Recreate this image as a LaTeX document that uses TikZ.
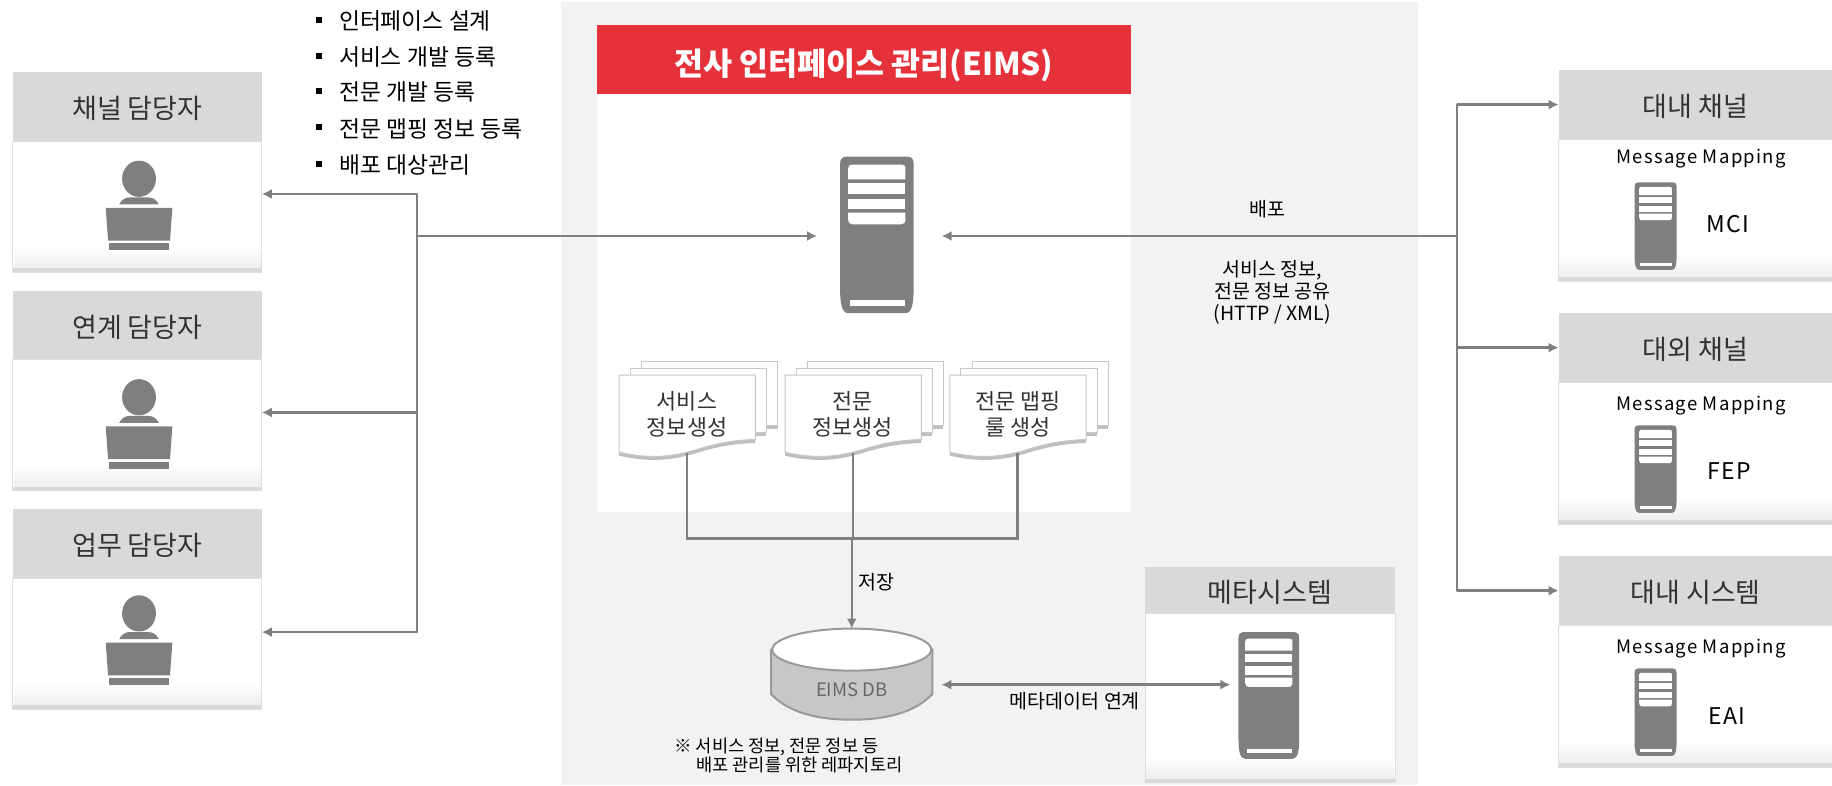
\documentclass[tikz,border=0pt]{standalone}
\usepackage{fontspec}
\usepackage{xcolor}
\setmainfont{Noto Sans CJK KR}
\usetikzlibrary{arrows.meta}
\definecolor{panelgray}{HTML}{F2F2F2}
\definecolor{headgray}{HTML}{D9D9D9}
\definecolor{wiregray}{HTML}{7F7F7F}
\definecolor{eimsred}{HTML}{E5323A}
\definecolor{darktext}{HTML}{333333}
\tikzset{
  wire/.style={draw=wiregray,line width=2.5pt},
  conn/.style={wire,-{Latex[length=10pt,width=10pt]}},
  twoway/.style={wire,{Latex[length=10pt,width=10pt]}-{Latex[length=10pt,width=10pt]}},
  headcell/.style={fill=headgray,text=darktext,font=\fontsize{27}{30}\selectfont,anchor=north west,inner sep=0pt,outer sep=0pt,text height=26pt,text depth=2pt},
  bodycell/.style={draw=black!12,line width=1pt,fill=white,anchor=north west,inner sep=0pt,outer sep=0pt},
  docpage/.style={minimum width=136pt,minimum height=77pt,inner sep=0pt,align=center,text=darktext,font=\fontsize{21.8}{26}\selectfont},
  srvmark/.style={inner sep=0pt,outer sep=0pt},
  bulletmark/.style={fill=black,minimum size=6pt,inner sep=0pt},
  bulletitem/.style={anchor=west,inner sep=0pt,font=\fontsize{22.8}{26}\selectfont},
  smalltext/.style={inner sep=0pt,align=center,font=\fontsize{19.5}{22}\selectfont},
  notetext/.style={inner sep=0pt,align=left,font=\fontsize{17.6}{19}\selectfont},
  mapcap/.style={inner sep=0pt,font=\fontsize{18.5}{22}\selectfont\addfontfeature{LetterSpace=7}},
  syscap/.style={inner sep=0pt,font=\fontsize{23}{26}\selectfont\addfontfeature{LetterSpace=6}}
}
\newcommand{\bodyfade}[1]{
\shade[top color=white,bottom color=black!7] ([xshift=1pt,yshift=26pt]#1.south west) rectangle ([xshift=-1pt,yshift=4pt]#1.south east);
\fill[black!15] ([yshift=4pt]#1.south west) rectangle (#1.south east);
}
\newcommand{\serverunit}[5]{
\node[srvmark,minimum width=#4*73.6pt,minimum height=#5*156.5pt] (#1) at ({#2+31.5*#4},{#3+67*#5}) {};
\begin{scope}[shift={(#2,#3)},xscale=#4,yscale=#5]
\fill[wiregray] (0,6) .. controls (0,2) and (2,0) .. (6,0) -- (57,0) .. controls (61,0) and (63,2) .. (63,6) -- (63,112) .. controls (63,124) and (62,134) .. (56,134) -- (7,134) .. controls (1,134) and (0,124) .. (0,112) -- cycle;
\fill[white] (7,10) .. controls (7,8) and (8,7) .. (10,7) -- (53,7) .. controls (55,7) and (56,8) .. (56,10) -- (56,19.5) -- (7,19.5) -- cycle;
\fill[white] (7,23) rectangle (56,32);
\fill[white] (7,36) rectangle (56,45);
\fill[white] (7,48) -- (56,48) -- (56,54) .. controls (56,57) and (54,58) .. (52,58) -- (11,58) .. controls (9,58) and (7,57) .. (7,54) -- cycle;
\fill[white] (8.5,123) rectangle (56,128);
\end{scope}
}
\newcommand{\personicon}[2]{
\begin{scope}[shift={(#1,#2)}]
\fill[wiregray] (0,0) ellipse [x radius=14.5,y radius=15.5];
\fill[wiregray] (-17,22) .. controls (-15,18) and (-12,16) .. (-8,16) -- (8,16) .. controls (12,16) and (15,18) .. (17,22) -- cycle;
\fill[wiregray] (-28.5,25) -- (28.5,25) -- (26.5,53) -- (-26.5,53) -- cycle;
\fill[wiregray] (-26,55) rectangle (26,61);
\end{scope}
}
\newcommand{\docstack}[2]{
\begin{scope}[shift={(#1,#2)}]
\foreach \off/\up in {19/12,9.5/6} {
\fill[black!25] (\off,-\up+3) rectangle (\off+116.5,-\up+58);
\filldraw[draw=black!22,fill=white,line width=1pt] (\off,-\up) rectangle (\off+116.5,-\up+55);
}
\fill[black!25] (0,4) -- (0,69) .. controls (30,76) and (50,72) .. (72,65) .. controls (90,60) and (100,59) .. (116.5,58) -- (116.5,4) -- cycle;
\filldraw[draw=black!22,fill=white,line width=1pt] (0,0) -- (116.5,0) -- (116.5,55) .. controls (100,56) and (90,57) .. (72,62) .. controls (50,69) and (30,73) .. (0,66) -- cycle;
\end{scope}
}
\begin{document}
\begin{tikzpicture}[x=1.1684pt,y=-1.1684pt]
\useasboundingbox (0,0) rectangle (1568,672);
\fill[panelgray] (480,2) rectangle (1214,672);
\fill[white] (511,80) rectangle (968,438);
\node[fill=eimsred,text=white,inner sep=0pt,minimum width=534pt,minimum height=69pt,text height=34pt,text depth=2pt,font=\fontsize{31.5}{34}\selectfont\bfseries] (eimstitle) at (739.5,50.5) {전사 인터페이스 관리(EIMS)};

\node[bulletmark] (markone) at (273,17) {};
\node[bulletmark] (marktwo) at (273,48) {};
\node[bulletmark] (markthree) at (273,78) {};
\node[bulletmark] (markfour) at (273,109) {};
\node[bulletmark] (markfive) at (273,140) {};
\node[bulletitem] (itemone) at (290,18) {인터페이스 설계};
\node[bulletitem] (itemtwo) at (290,49) {서비스 개발 등록};
\node[bulletitem] (itemthree) at (290,79) {전문 개발 등록};
\node[bulletitem] (itemfour) at (290,110) {전문 맵핑 정보 등록};
\node[bulletitem] (itemfive) at (290,141) {배포 대상관리};

\node[headcell,minimum width=249pt,minimum height=69pt] (chanhead) at (11,62) {채널 담당자};
\node[bodycell,minimum width=249pt,minimum height=131pt] (chanbody) at (chanhead.south west) {};
\bodyfade{chanbody}
\personicon{119}{153}
\node[headcell,minimum width=249pt,minimum height=69pt] (linkhead) at (11,249) {연계 담당자};
\node[bodycell,minimum width=249pt,minimum height=131pt] (linkbody) at (linkhead.south west) {};
\bodyfade{linkbody}
\personicon{119}{340}
\node[headcell,minimum width=249pt,minimum height=69pt] (bizhead) at (11,436) {업무 담당자};
\node[bodycell,minimum width=249pt,minimum height=131pt] (bizbody) at (bizhead.south west) {};
\bodyfade{bizbody}
\personicon{119}{525}

\node[headcell,minimum width=274pt,minimum height=69pt] (mcihead) at (1334,60) {대내 채널};
\node[bodycell,minimum width=274pt,minimum height=142pt] (mcibody) at (mcihead.south west) {};
\bodyfade{mcibody}
\node[mapcap] (mcimap) at (1456,136) {Message Mapping};
\serverunit{mcisrv}{1399}{156}{0.571}{0.56}
\node[syscap] (mcilabel) at (1479,192) {MCI};
\node[headcell,minimum width=274pt,minimum height=69pt] (fephead) at (1334,268) {대외 채널};
\node[bodycell,minimum width=274pt,minimum height=142pt] (fepbody) at (fephead.south west) {};
\bodyfade{fepbody}
\node[mapcap] (fepmap) at (1456,347) {Message Mapping};
\serverunit{fepsrv}{1399}{364}{0.571}{0.56}
\node[syscap] (feplabel) at (1480,403) {FEP};
\node[headcell,minimum width=274pt,minimum height=69pt] (eaihead) at (1334,476) {대내 시스템};
\node[bodycell,minimum width=274pt,minimum height=142pt] (eaibody) at (eaihead.south west) {};
\bodyfade{eaibody}
\node[mapcap] (eaimap) at (1456,555) {Message Mapping};
\serverunit{eaisrv}{1399}{572}{0.571}{0.56}
\node[syscap] (eailabel) at (1478,613) {EAI};

\node[headcell,minimum width=250pt,minimum height=47pt] (metahead) at (980,485) {메타시스템};
\node[bodycell,minimum width=250pt,minimum height=169pt] (metabody) at (metahead.south west) {};
\bodyfade{metabody}
\serverunit{metasrv}{1060}{541}{0.825}{0.81}

\serverunit{eimssrv}{719}{134}{1}{1}

\docstack{530}{321}
\docstack{672}{321}
\docstack{813}{321}
\node[docpage] (svcdoc) at (588,355) {서비스\\정보생성};
\node[docpage] (filedoc) at (730,355) {전문\\정보생성};
\node[docpage] (mapdoc) at (871,355) {전문 맵핑\\룰 생성};

\filldraw[draw=black!40,fill=black!22,line width=2pt] (660,556) -- (660,594) .. controls (675,610) and (700,616) .. (729,616) .. controls (758,616) and (783,610) .. (798,594) -- (798,556) -- cycle;
\filldraw[draw=black!40,fill=white,line width=2pt] (729,556) ellipse [x radius=68,y radius=18];
\node[inner sep=0pt,minimum width=161pt,minimum height=121pt,text=black!60,font=\fontsize{18.5}{20}\selectfont] (eimsdb) at (729,590) {EIMS DB};

\coordinate (lefthub) at (357,202);
\coordinate (lefttop) at (357,166);
\coordinate (leftmid) at (357,353);
\coordinate (leftend) at (357,541);
\coordinate (righthub) at (1247,202);
\coordinate (docbus) at (729,461);
\coordinate (metalink) at (900,586);

\draw[wire,line cap=round] (lefttop) -- (leftend);
\draw[conn] (lefttop) -- (chanbody.east |- lefttop);
\draw[conn] (leftmid) -- (linkbody.east |- leftmid);
\draw[conn] (leftend) -- (bizbody.east |- leftend);
\draw[conn] (lefthub) -- ([xshift=-23pt]eimssrv.west |- lefthub);
\draw[conn] (righthub) -- ([xshift=28pt]eimssrv.east |- righthub);
\draw[conn] (righthub |- mcihead.west) -- (mcihead.west);
\draw[conn] (righthub |- fephead.west) -- (fephead.west);
\draw[conn] (righthub |- eaihead.west) -- (eaihead.west);
\draw[wire,line cap=round] (righthub |- mcihead.west) -- (righthub |- eaihead.west);
\draw[wire] (svcdoc.south) |- (docbus) -| (mapdoc.south);
\draw[wire] (filedoc.south) -- (filedoc.south |- docbus);
\draw[conn] (docbus) -- (eimsdb.north);
\draw[twoway] ([xshift=9pt]eimsdb.east |- metalink) -- ([xshift=-8pt]metasrv.west |- metalink);

\node[smalltext] (deploylabel) at (1085,179) {배포};
\node[smalltext] (sharelabel) at (1089,250) {서비스 정보,\\전문 정보 공유\\(HTTP / XML)};
\node[smalltext] (savelabel) at (750,498) {저장};
\node[smalltext] (metalabel) at (920,600) {메타데이터 연계};
\node[notetext,anchor=north west] (reponote) at (577,631) {※ 서비스 정보, 전문 정보 등\\\hspace*{22pt}배포 관리를 위한 레파지토리};
\end{tikzpicture}
\end{document}
